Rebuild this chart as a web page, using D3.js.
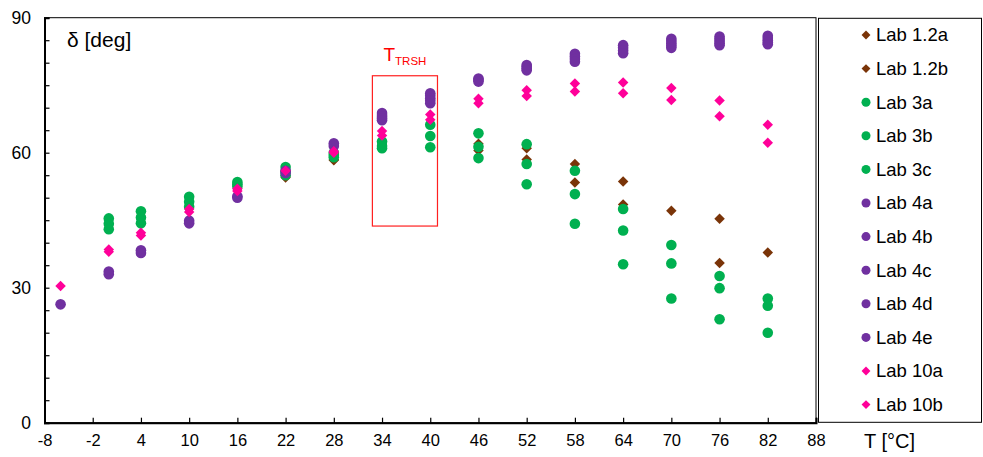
<!DOCTYPE html>
<html><head><meta charset="utf-8">
<script src="https://cdn.jsdelivr.net/npm/d3@7"></script>
<style>body{margin:0;background:#fff}svg{display:block;font-family:"Liberation Sans",Arial,sans-serif}</style>
</head><body><svg id="c" width="983" height="457"></svg>
<script>
const temps = [-6, 0, 4, 10, 16, 22, 28, 34, 40, 46, 52, 58, 64, 70, 76, 82];
const lab12a = [null, null, null, null, null, 54.5, 58.3, null, null, 62.0, 61.0, 57.5, 53.6, 47.1, 45.3, 37.8];
const lab12b = [null, null, null, null, null, 54.8, 58.5, null, null, 60.5, 58.5, 53.4, 48.5, null, 35.5, null];
const lab3a = [null, 45.4, 47.0, 50.2, 53.5, 56.8, 60.0, 62.5, 66.2, 64.3, 61.9, 56.0, 47.5, 39.5, 32.6, 27.6];
const lab3b = [null, 44.2, 45.6, 49.1, 53.0, 55.8, 59.5, 61.5, 63.7, 61.3, 57.5, 50.8, 42.7, 35.4, 29.9, 26.0];
const lab3c = [null, 43.0, 44.3, 48.0, 52.5, 55.0, 59.0, 61.0, 61.2, 58.8, 53.0, 44.2, 35.2, 27.6, 23.0, 20.0];
const lab4a = [26.3, 33.6, 38.3, 44.9, 50.3, 56.0, 62.1, 68.8, 73.2, 76.5, 79.5, 82.0, 83.9, 85.3, 85.8, 86.0];
const lab4b = [null, 33.0, 37.7, 44.3, 50.0, 55.5, 61.5, 68.4, 72.7, 76.2, 79.1, 81.4, 83.3, 84.8, 85.3, 85.5];
const lab4c = [null, null, null, null, null, null, null, 68.0, 72.1, 75.8, 78.7, 80.8, 82.7, 84.3, 84.8, 85.0];
const lab4d = [null, null, null, null, null, null, null, 67.6, 71.6, null, 78.3, 80.2, 82.1, 83.8, 84.3, 84.5];
const lab4e = [null, null, null, null, null, null, null, 67.2, 71.0, null, null, null, null, 83.3, 83.9, 84.1];
const lab10a = [30.4, 38.5, 42.2, 47.5, 52.0, 56.0, 60.3, 64.8, 68.5, 72.0, 73.9, 75.4, 75.6, 74.4, 71.6, 66.2];
const lab10b = [null, 38.0, 41.6, 46.8, 51.5, null, 60.0, 63.8, 67.3, 71.0, 72.6, 73.6, 73.2, 71.7, 68.1, 62.2];

const seriesNames = ["Lab 1.2a","Lab 1.2b","Lab 3a","Lab 3b","Lab 3c","Lab 4a","Lab 4b","Lab 4c","Lab 4d","Lab 4e","Lab 10a","Lab 10b"];
const seriesValues = [lab12a, lab12b, lab3a, lab3b, lab3c, lab4a, lab4b, lab4c, lab4d, lab4e, lab10a, lab10b];
const seriesShapes = ["diamond","diamond","circle","circle","circle","circle","circle","circle","circle","circle","diamond","diamond"];
const seriesColors = ["#7a3408","#7a3408","#00b050","#00b050","#00b050","#7030a0","#7030a0","#7030a0","#7030a0","#7030a0","#ff0099","#ff0099"];

const xTicks = [-8, -2, 4, 10, 16, 22, 28, 34, 40, 46, 52, 58, 64, 70, 76, 82, 88];
const yTickLabels = [0, 30, 60, 90];
const yMinorTicks = d3.range(0, 91, 5);
const trshBox = [32.8, 40.9, 43.7, 77.1]; // x0, x1, y0, y1 in data units

const L = 44.5, R = 816, T = 17.7, B = 422.7;
const x = d3.scaleLinear().domain([-8, 88]).range([L, R]);
const y = d3.scaleLinear().domain([0, 90]).range([B, T]);
const svg = d3.select("#c");

// frame
svg.append("rect").attr("x", L).attr("y", T).attr("width", R - L).attr("height", B - T)
  .attr("fill", "none").attr("stroke", "#000").attr("stroke-width", 1);

// axes
const xAxis = d3.axisBottom(x).tickValues(xTicks).tickSize(-5).tickPadding(12).tickFormat(d => String(d));
const gx = svg.append("g").attr("transform", `translate(0,${B})`).call(xAxis);
gx.select(".domain").attr("stroke-width", 2);
gx.selectAll(".tick line").attr("stroke-width", 1.2);
gx.selectAll("text").attr("font-size", 16.5).attr("fill", "#000").attr("font-family", "Liberation Sans, Arial, sans-serif");

const yAxis = d3.axisLeft(y).tickValues(yMinorTicks).tickSize(-5).tickPadding(0).tickFormat(() => "");
const gy = svg.append("g").attr("transform", `translate(${L},0)`).call(yAxis);
gy.select(".domain").attr("stroke-width", 2);
gy.selectAll(".tick line").attr("stroke-width", 1.2);

svg.append("g").selectAll("text").data(yTickLabels).join("text")
  .attr("x", 31).attr("y", d => y(d) + 6).attr("text-anchor", "end")
  .attr("font-size", 17.5).text(d => d);

// axis titles
svg.append("text").attr("x", 67).attr("y", 47).attr("font-size", 21).text("δ [deg]");
svg.append("text").attr("x", 864).attr("y", 448).attr("font-size", 20).text("T [°C]");

// TRSH box
svg.append("rect").attr("x", x(trshBox[0])).attr("y", y(trshBox[3]))
  .attr("width", x(trshBox[1]) - x(trshBox[0])).attr("height", y(trshBox[2]) - y(trshBox[3]))
  .attr("fill", "none").attr("stroke", "#ff2020").attr("stroke-width", 1.2);
const tl = svg.append("text").attr("x", (x(trshBox[0]) + x(trshBox[1])) / 2).attr("y", 61)
  .attr("text-anchor", "middle").attr("fill", "#ff0000");
tl.append("tspan").attr("font-size", 19).text("T");
tl.append("tspan").attr("font-size", 11.5).attr("dy", 4).text("TRSH");

// markers
function drawMarker(g, shape, color, cx, cy, scale) {
  if (shape === "circle") {
    g.append("circle").attr("cx", cx).attr("cy", cy).attr("r", 5.3 * scale).attr("fill", color);
  } else {
    g.append("path").attr("d", d3.symbol().type(d3.symbolDiamond2).size(70 * scale * scale)())
      .attr("transform", `translate(${cx},${cy})`).attr("fill", color);
  }
}
const gm = svg.append("g");
seriesValues.forEach((vals, i) => {
  vals.forEach((v, j) => {
    if (v == null) return;
    drawMarker(gm, seriesShapes[i], seriesColors[i], x(temps[j]), y(v), 1);
  });
});

// legend
svg.append("rect").attr("x", 818.5).attr("y", 18.3).attr("width", 163).attr("height", 404)
  .attr("fill", "none").attr("stroke", "#000").attr("stroke-width", 1);
const lg = svg.append("g");
seriesNames.forEach((n, i) => {
  const ly = 35 + i * 33.6;
  drawMarker(lg, seriesShapes[i], seriesColors[i], 866, ly, 0.85);
  lg.append("text").attr("x", 876).attr("y", ly + 6.3).attr("font-size", 18.5).text(n);
});
</script></body></html>
